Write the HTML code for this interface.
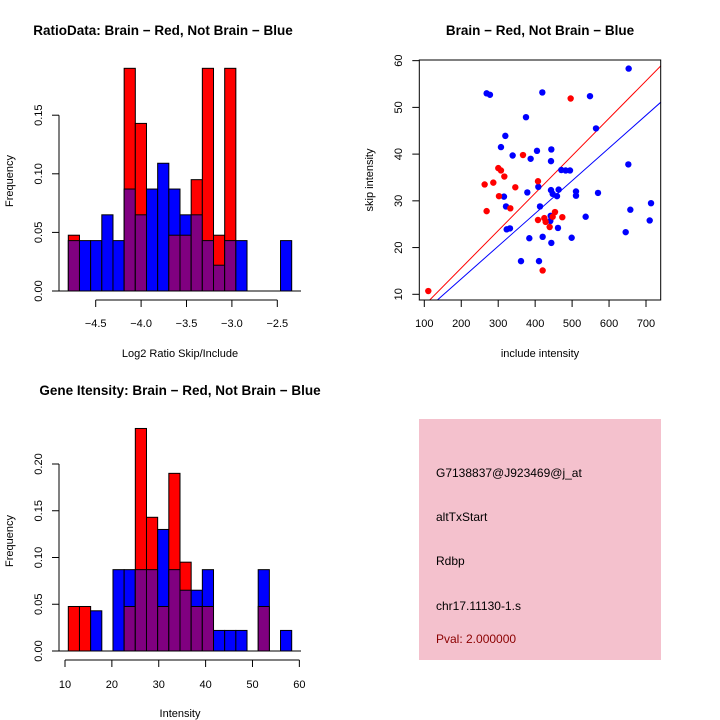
<!DOCTYPE html>
<html><head><meta charset="utf-8"><style>
body{margin:0;background:#fff;}
svg{display:block;font-family:"Liberation Sans",sans-serif;}
text{fill:#000;}
</style></head><body>
<svg id="s" width="720" height="720" viewBox="0 0 720 720" xmlns="http://www.w3.org/2000/svg">
<text x="163" y="35" font-size="13.5" font-weight="bold" text-anchor="middle">RatioData: Brain − Red, Not Brain − Blue</text>
<text x="540" y="35" font-size="13.5" font-weight="bold" text-anchor="middle">Brain − Red, Not Brain − Blue</text>
<text x="180" y="395" font-size="13.5" font-weight="bold" text-anchor="middle">Gene Itensity: Brain − Red, Not Brain − Blue</text>
<g id="h1"></g>
<g id="h2"></g>
<g id="sc"></g>
<g>
<rect x="419" y="419" width="242" height="241" fill="#f4c1cd"/>
<text x="436" y="477" font-size="12">G7138837@J923469@j_at</text>
<text x="436" y="521" font-size="12">altTxStart</text>
<text x="436" y="565" font-size="12">Rdbp</text>
<text x="436" y="610" font-size="12">chr17.11130-1.s</text>
<text x="436" y="643" font-size="12" fill="#8b0000" style="fill:#8b0000">Pval: 2.000000</text>
</g>
</svg>
<script>
const NS="http://www.w3.org/2000/svg";
// Ratio histogram data
const ratioRed=[0.0476,0,0,0,0,0.19,0.143,0,0,0.0476,0.0476,0.095,0.19,0.0476,0.19,0,0,0,0,0];
const ratioBlue=[0.043,0.043,0.043,0.065,0.043,0.087,0.065,0.087,0.109,0.087,0.065,0.065,0.043,0.022,0.043,0.043,0,0,0,0.043];
const ratioXTicks=[-4.5,-4.0,-3.5,-3.0,-2.5];
const ratioYTicks=[0,0.05,0.10,0.15];
// Intensity histogram data
const intRed=[0.0476,0.0476,0,0,0,0.0476,0.238,0.143,0.0476,0.19,0.095,0.0476,0.0476,0,0,0,0,0.0476,0,0];
const intBlue=[0,0,0.043,0,0.087,0.087,0.087,0.087,0.13,0.087,0.065,0.065,0.087,0.022,0.022,0.022,0,0.087,0,0.022];
const intXTicks=[10,20,30,40,50,60];
const intYTicks=[0,0.05,0.10,0.15,0.20];
// Scatter data
const blueX=[268.7,277.7,419.4,375.2,548.4,653.1,564.7,319.3,307.5,339.1,405.0,387.8,443.8,442.9,470.8,482.6,494.3,652.2,315.6,378.8,408.6,442.9,447.4,463.6,459.1,510.5,510.5,570.1,321.1,413.1,322.9,331.9,442.0,441.1,461.8,536.7,657.6,713.6,710.0,645.0,384.2,420.3,443.8,498.8,361.7,410.4];
const blueY=[53.0,52.7,53.2,47.9,52.4,58.3,45.5,43.9,41.5,39.7,40.7,39.0,41.0,38.5,36.6,36.5,36.5,37.8,30.9,31.8,33.0,32.3,31.5,32.4,31.0,32.0,31.1,31.7,28.8,28.8,23.9,24.1,26.8,25.7,24.2,26.6,28.1,29.5,25.8,23.3,22.0,22.3,21.0,22.1,17.1,17.1];
const redX=[110.8,496.1,367.1,300.3,307.5,316.6,263.3,286.8,346.3,407.7,302.1,268.7,332.8,407.7,424.8,428.4,453.7,473.5,439.3,447.4,420.3];
const redY=[10.7,51.9,39.8,37.0,36.5,35.2,33.5,33.9,32.9,34.2,31.0,27.8,28.4,25.9,26.3,25.5,27.6,26.5,24.4,26.6,15.1];
const scXTicks=[100,200,300,400,500,600,700];
const scYTicks=[10,20,30,40,50,60];
const redLine=[-0.4,0.0801];
const blueLine=[-0.7,0.070];

function el(parent,tag,attrs,txt){const e=document.createElementNS(NS,tag);for(const k in attrs)e.setAttribute(k,attrs[k]);if(txt!==undefined)e.textContent=txt;parent.appendChild(e);return e;}
function fmt(v,d){return (v<0?"−":"")+Math.abs(v).toFixed(d);}

function hist(gid,red,blue,bx0,bx1,y0,ypx,xs,xTicks,yTicks,axisY,xLab,xd,yd,xLabY,xTitle){
  const g=document.getElementById(gid);
  const n=red.length,w=(bx1-bx0)/n;
  const ys=v=>y0-v*ypx;
  for(let i=0;i<n;i++){
    const r=red[i],b=blue[i],hi=Math.max(r,b),lo=Math.min(r,b);
    const x=bx0+i*w;
    if(hi>0){const rc=el(g,'rect',{x:x,y:ys(hi),width:w,height:hi*ypx,fill:r>=b?'#ff0000':'#0000ff',stroke:'#000','stroke-width':1});
      
      }
    if(lo>0){const pc=el(g,'rect',{x:x,y:ys(lo),width:w,height:lo*ypx,fill:'#800080',stroke:'#000','stroke-width':1});
      
      }
  }
  el(g,'line',{x1:59,x2:301,y1:y0,y2:y0,stroke:'#000'});
  el(g,'line',{x1:59,x2:59,y1:ys(yTicks[0]),y2:ys(yTicks[yTicks.length-1]),stroke:'#000'});
  yTicks.forEach(t=>{el(g,'line',{x1:52,x2:59,y1:ys(t),y2:ys(t),stroke:'#000'});
    const tx=el(g,'text',{x:0,y:0,'font-size':11,'text-anchor':'middle',transform:`translate(42,${ys(t)}) rotate(-90)`},t.toFixed(yd));
    
    });
  el(g,'line',{x1:xs(xTicks[0]),x2:xs(xTicks[xTicks.length-1]),y1:axisY,y2:axisY,stroke:'#000'});
  xTicks.forEach(t=>{el(g,'line',{x1:xs(t),x2:xs(t),y1:axisY,y2:axisY+7,stroke:'#000'});
    const tx=el(g,'text',{x:xs(t),y:xLabY,'font-size':11,'text-anchor':'middle'},fmt(t,xd));
    
    });
  const yt=el(g,'text',{x:0,y:0,'font-size':11,'text-anchor':'middle',transform:`translate(13,${y0-110}) rotate(-90)`},'Frequency');
  
  
  const xt=el(g,'text',{x:180,y:xTitle,'font-size':11,'text-anchor':'middle'},xLab);
  
  
}
hist('h1',ratioRed,ratioBlue,68.3,291.7,291,58.6/0.05,v=>95.7+(v+4.5)*90.8,ratioXTicks,ratioYTicks,300,'Log2 Ratio Skip/Include',1,2,327,357);
hist('h2',intRed,intBlue,68.3,291.7,651,46.75/0.05,v=>65+(v-10)*4.687,intXTicks,intYTicks,660,'Intensity',0,2,688,717);

(function(){
  const g=document.getElementById('sc');
  const X=v=>424.3+(v-100)*0.3695, Y=v=>294.3-(v-10)*4.673;
  const L=419.3,R=660.7,T=60,B=300;
  const cp=el(g,'clipPath',{id:'clp'});
  el(cp,'rect',{x:L,y:T,width:R-L,height:B-T});
  const fx0=100+(L-424.3)/0.3695, fx1=100+(R-424.3)/0.3695;
  [[redLine,'#ff0000','red-fit-line'],[blueLine,'#0000ff','blue-fit-line']].forEach(([c,col,nm])=>{
    const ln=el(g,'line',{x1:X(fx0),y1:Y(c[0]+c[1]*fx0),x2:X(fx1),y2:Y(c[0]+c[1]*fx1),stroke:col,'stroke-width':1,'clip-path':'url(#clp)'});
    
    
  });
  blueX.forEach((v,i)=>{const c=el(g,'circle',{cx:X(v),cy:Y(blueY[i]),r:3.2,fill:'#0000ff'});
    
    });
  redX.forEach((v,i)=>{const c=el(g,'circle',{cx:X(v),cy:Y(redY[i]),r:3.2,fill:'#ff0000'});
    
    });
  el(g,'rect',{x:L,y:T,width:R-L,height:B-T,fill:'none',stroke:'#000'});
  scYTicks.forEach(t=>{el(g,'line',{x1:L-7,x2:L,y1:Y(t),y2:Y(t),stroke:'#000'});
    const tx=el(g,'text',{x:0,y:0,'font-size':11,'text-anchor':'middle',transform:`translate(402,${Y(t)}) rotate(-90)`},String(t));
    
    });
  scXTicks.forEach(t=>{el(g,'line',{x1:X(t),x2:X(t),y1:B,y2:B+7,stroke:'#000'});
    const tx=el(g,'text',{x:X(t),y:327,'font-size':11,'text-anchor':'middle'},String(t));
    
    });
  const yt=el(g,'text',{x:0,y:0,'font-size':11,'text-anchor':'middle',transform:'translate(373,180) rotate(-90)'},'skip intensity');
  
  
  const xt=el(g,'text',{x:540,y:357,'font-size':11,'text-anchor':'middle'},'include intensity');
  
  
})();
</script>
</body></html>
